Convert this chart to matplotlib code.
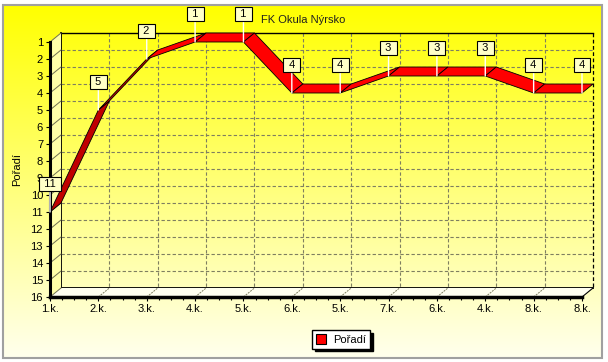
import numpy as np
import matplotlib
matplotlib.use("Agg")
import matplotlib.pyplot as plt
from matplotlib.patches import Rectangle, Patch, Polygon
from matplotlib.ticker import AutoMinorLocator

plt.rcParams['font.family'] = ['Liberation Sans', 'DejaVu Sans']

# ---- data ----
categories = ['1.k.', '2.k.', '3.k.', '4.k.', '5.k.', '6.k.', '5.k.', '7.k.', '6.k.', '4.k.', '8.k.', '8.k.']
values = [11, 5, 2, 1, 1, 4, 4, 3, 3, 3, 4, 4]
series_name = 'Pořadí'
title = 'FK Okula Nýrsko'
rank_ticks = list(range(1, 17))

W, H = 608, 362
fig = plt.figure(figsize=(W / 100, H / 100), dpi=100, facecolor='white')

# background panel with gradient
bg = fig.add_axes([0, 0, 1, 1], zorder=-5)
bg.set_xlim(0, W); bg.set_ylim(H, 0); bg.axis('off')
grad = np.linspace(0, 1, 256)[:, None]
img = np.zeros((256, 1, 3))
img[..., 0] = 1.0
img[..., 1] = 1.0
img[..., 2] = grad * 0.93
bg.imshow(img, extent=(3, 602, 358, 5), aspect='auto', interpolation='bilinear')
bg.add_patch(Rectangle((3, 5), 599, 353, fill=False, ec='#a0a0a0', lw=1.5))

# main axes (front plane)
L, R, T, B = 50, 582, 42, 297
ax = fig.add_axes([L / W, 1 - B / H, (R - L) / W, (B - T) / H], zorder=1)
ax.patch.set_alpha(0)
n = len(categories)
xs = np.arange(n)
ax.set_xlim(0, n - 1)
ax.set_ylim(16, 1)

# depth offset (data units)
dx = 11 / ((R - L) / (n - 1))
dy = 9 / ((B - T) / 15)

ymin, ymax = 1, 16
# back wall grid
for r in rank_ticks[1:-1]:
    ax.plot([dx, n - 1 + dx], [r - dy, r - dy], ls=(0, (3, 2)), color='#7f7f60', lw=0.8,
            clip_on=False, zorder=1)
for i in xs[1:-1]:
    ax.plot([i + dx, i + dx], [ymin - dy, ymax - dy], ls=(0, (3, 2)), color='#7f7f60', lw=0.8,
            clip_on=False, zorder=1)
# back wall edges
ax.plot([dx, n - 1 + dx], [ymin - dy, ymin - dy], color='black', lw=1.0, clip_on=False, zorder=1.2)
ax.plot([dx, dx], [ymin - dy, ymax - dy], color='black', lw=1.3, clip_on=False, zorder=1.2)
ax.plot([dx, n - 1 + dx], [ymax - dy, ymax - dy], color='black', lw=1.3, clip_on=False, zorder=1.2)
ax.plot([n - 1 + dx, n - 1 + dx], [ymin - dy, ymax - dy], color='black', lw=0.9,
        ls=(0, (3, 2)), clip_on=False, zorder=1.2)

# left wall
ax.add_patch(Polygon([(0, ymin), (0, ymax), (dx, ymax - dy), (dx, ymin - dy)],
                     closed=True, fc='#ffffa8', ec='none', clip_on=False, zorder=1.5))
for r in rank_ticks:
    ax.plot([0, dx], [r, r - dy], color='#6f6f50', lw=0.7, clip_on=False, zorder=1.6)
# floor
ax.add_patch(Polygon([(0, ymax), (n - 1, ymax), (n - 1 + dx, ymax - dy), (dx, ymax - dy)],
                     closed=True, fc='#fffff0', ec='none', clip_on=False, zorder=1.5))
for i in xs[1:-1]:
    ax.plot([i, i + dx], [ymax, ymax - dy], color='#7f7f60', lw=0.7, ls=(0, (2, 1)),
            clip_on=False, zorder=1.6)
ax.plot([n - 1, n - 1 + dx], [ymax, ymax - dy], color='black', lw=0.8, clip_on=False, zorder=1.6)

# ribbon
px_x = (R - L) / (n - 1)
px_y = (B - T) / 15
for i in range(n - 1):
    x0, x1 = xs[i], xs[i + 1]
    v0, v1 = values[i], values[i + 1]
    ux = (x1 - x0) * px_x
    uy = (v1 - v0) * px_y
    cross = ux * (-9) - uy * 11
    col = '#c00000' if cross > 0 else '#ff0000'
    ax.add_patch(Polygon([(x0, v0), (x1, v1), (x1 + dx, v1 - dy), (x0 + dx, v0 - dy)],
                         closed=True, fc=col, ec='black', lw=0.6, clip_on=False, zorder=3,
                         joinstyle='miter'))

# value marks
for i, v in zip(xs, values):
    ax.annotate(' %d ' % v, xy=(i, v), xytext=(0, 20), textcoords='offset points',
                ha='center', va='center', fontsize=8, color='black',
                bbox=dict(boxstyle='square,pad=0.2', fc='#ffffc8', ec='black', lw=0.8),
                arrowprops=dict(arrowstyle='-', color='white', lw=1, shrinkA=0, shrinkB=0),
                annotation_clip=False, zorder=5)

# axes styling
for s in ['top', 'right']:
    ax.spines[s].set_visible(False)
ax.spines['left'].set_linewidth(2.2)
ax.spines['bottom'].set_linewidth(2.5)
ax.spines['left'].set_zorder(4)
ax.spines['bottom'].set_zorder(4)
ax.set_yticks(rank_ticks)
ax.set_yticklabels([str(r) for r in rank_ticks])
ax.set_xticks(xs)
ax.set_xticklabels(categories)
ax.xaxis.set_minor_locator(AutoMinorLocator(4))
ax.tick_params(axis='both', which='major', direction='out', length=3, width=0.8,
               labelsize=8, pad=2, colors='black')
ax.tick_params(axis='x', which='minor', direction='out', length=2, width=0.8)
ax.set_ylabel(series_name, fontsize=8)
ax.yaxis.set_label_coords((22 - L) / (R - L), (B - 170) / (B - T))

fig.text(303 / W, 1 - 20 / H, title, ha='center', va='center', fontsize=8, color='#202020')

fig.legend(handles=[Patch(fc='red', ec='black', lw=0.8)], labels=[series_name],
           loc='center', bbox_to_anchor=(341 / W, 1 - 339.5 / H), frameon=True,
           fancybox=False, edgecolor='black', framealpha=1, facecolor='white',
           shadow={'color': 'black', 'alpha': 1}, fontsize=8, handlelength=0.9,
           handleheight=0.9, borderpad=0.35, handletextpad=0.6, borderaxespad=0)

fig.savefig('out.png', dpi=100, facecolor='white')
